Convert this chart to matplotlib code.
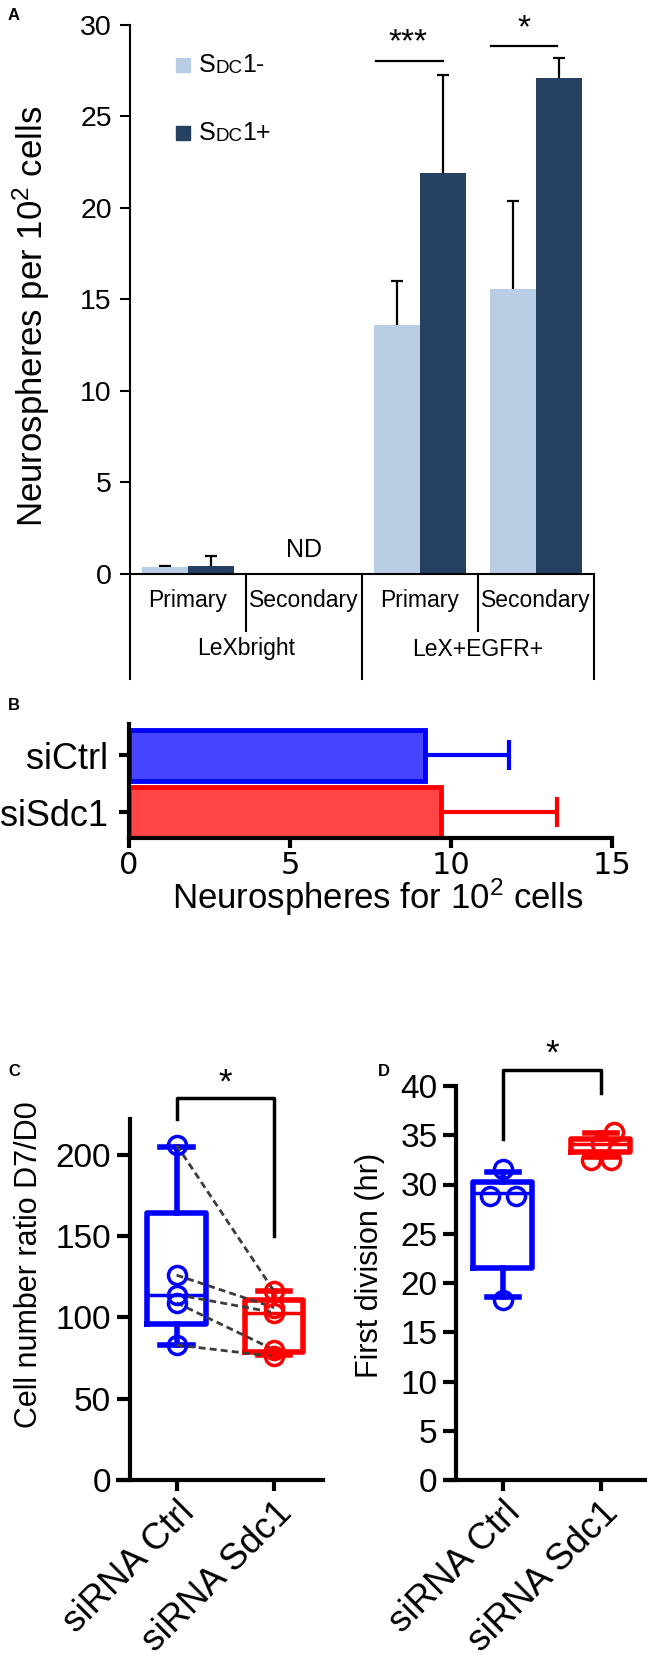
import numpy as np
import matplotlib.pyplot as plt
import matplotlib.transforms as mtransforms
from matplotlib import font_manager

plt.rcParams['font.family'] = ['Liberation Sans', 'DejaVu Sans']
plt.rcParams['mathtext.fontset'] = 'custom'
plt.rcParams['mathtext.rm'] = 'Liberation Sans'
plt.rcParams['mathtext.default'] = 'regular'

# ---- data ----
# panel A: neurospheres per 10^2 cells
a_stage = ['Primary', 'Secondary', 'Primary', 'Secondary']
a_group = ['LeXbright', 'LeX+EGFR+']
a_neg = [0.4, np.nan, 13.6, 15.6]
a_neg_err = [0.03, np.nan, 2.4, 4.8]
a_pos = [0.46, np.nan, 21.9, 27.1]
a_pos_err = [0.53, np.nan, 5.35, 1.1]

# panel B
b_names = ['siCtrl', 'siSdc1']
b_mean = [9.2, 9.7]
b_err = [2.6, 3.6]

# panel C, paired samples (same order) + box (min, q1, median, q3, max)
c_ctrl = [206, 126, 114, 109, 83]
c_sdc1 = [116, 106, 103, 80, 76]
c_ctrl_box = [83, 96, 114, 164, 205]
c_sdc1_box = [77, 79, 103, 111, 116]

# panel D
d_ctrl = [31.6, 28.8, 28.8, 18.3]
d_sdc1 = [35.3, 34.1, 32.5, 32.5]
d_ctrl_box = [18.6, 21.5, 29.1, 30.3, 31.3]
d_sdc1_box = [32.8, 33.3, 34.1, 34.6, 35.2]

cd_names = ['siRNA Ctrl', 'siRNA Sdc1']

# a narrow face for the B tick numbers, if one is installed
narrow = None
for f in font_manager.fontManager.ttflist:
    if 'Narrow' in f.name or f.stretch in ('condensed', 'semi-condensed'):
        narrow = f.name
        break

W, H = 647, 1663
fig = plt.figure(figsize=(W / 100, H / 100), dpi=100)


def axes_px(l, t, r, b):
    return fig.add_axes([l / W, 1 - b / H, (r - l) / W, (b - t) / H])


def ftext(x, y, s, **kw):
    fig.text(x / W, 1 - y / H, s, **kw)


# ================= A =================
axA = axes_px(130, 25, 594, 574)
light, dark = '#B9CDE5', '#254061'
x = np.arange(4)
ekw = dict(lw=1.6, capsize=4.5, capthick=1.6, zorder=1)
axA.bar(x - 0.2, a_neg, 0.4, color=light, yerr=a_neg_err, ecolor='black', error_kw=ekw, zorder=2)
axA.bar(x + 0.2, a_pos, 0.4, color=dark, yerr=a_pos_err, ecolor='black', error_kw=ekw, zorder=2)
axA.set_xlim(-0.5, 3.5)
axA.set_ylim(0, 30)
axA.set_yticks(range(0, 31, 5))
axA.set_xticks([])
axA.tick_params(axis='y', labelsize=20.5, length=7, width=1.5, pad=6)
for s in ['top', 'right']:
    axA.spines[s].set_visible(False)
for s in ['left', 'bottom']:
    axA.spines[s].set_linewidth(1.5)
    axA.spines[s].set_zorder(3)

blend = mtransforms.blended_transform_factory(axA.transData, fig.transFigure)
for xi in [-0.5, 1.5, 3.5]:
    axA.plot([xi, xi], [1 - 574 / H, 1 - 679 / H], transform=blend,
             clip_on=False, color='black', lw=1.5)
for xi in [0.5, 2.5]:
    axA.plot([xi, xi], [1 - 574 / H, 1 - 631 / H], transform=blend,
             clip_on=False, color='black', lw=1.5)
for xi, lab in zip(x, a_stage):
    axA.text(xi, 1 - 601 / H, lab, transform=blend, ha='center', va='center', fontsize=16.5)
for xi, lab in zip([0.5, 2.5], a_group):
    axA.text(xi, 1 - 649 / H, lab, transform=blend, ha='center', va='center', fontsize=16.5)

# legend with small caps
for y0, sign, col in [(27.8, '-', light), (24.1, '+', dark)]:
    axA.plot(-0.04, y0, 's', ms=10.5, color=col)
    t = axA.text(0.09, y0, 'S', fontsize=18, va='center')
    t2 = axA.annotate('DC', xy=(1, 0), xycoords=t, fontsize=13.5, va='bottom')
    axA.annotate('1' + sign, xy=(1, 0), xycoords=t2, fontsize=18, va='bottom')

axA.text(1, 1.3, 'ND', ha='center', va='center', fontsize=18)
axA.plot([1.62, 2.2], [28.05, 28.05], color='black', lw=1.6, clip_on=False)
axA.text(1.9, 29.05, '***', ha='center', va='center', fontsize=24)
axA.plot([2.61, 3.18], [28.85, 28.85], color='black', lw=1.6, clip_on=False)
axA.text(2.9, 29.8, '*', ha='center', va='center', fontsize=24)
ftext(31, 316, 'Neurospheres per 10$^2$ cells', rotation=90, ha='center', va='center', fontsize=25)

# ================= B =================
axB = axes_px(129, 724, 612, 838)
yb = [1, 0]
edge = ['#0000FF', '#FF0000']
axB.barh(yb, b_mean, height=0.9, color=['#4545FF', '#FF4545'], edgecolor=edge,
         linewidth=3.5, zorder=2)
for yi, m, e, c in zip(yb, b_mean, b_err, edge):
    axB.errorbar(m, yi, xerr=e, color=c, lw=3, capsize=11, capthick=3, zorder=1)
axB.set_xlim(0, 15)
axB.set_ylim(-0.45, 1.55)
axB.set_xticks([0, 5, 10, 15])
axB.set_yticks(yb)
axB.set_yticklabels(b_names, fontsize=26)
for lab in axB.get_xticklabels():
    if narrow:
        lab.set_fontfamily(narrow)
        lab.set_fontsize(22)
    else:
        lab.set_fontsize(19)
axB.tick_params(axis='x', length=7, width=3, pad=2)
axB.tick_params(axis='y', length=7, width=3, pad=8)
for s in ['top', 'right']:
    axB.spines[s].set_visible(False)
for s in ['left', 'bottom']:
    axB.spines[s].set_linewidth(3)
    axB.spines[s].set_zorder(3)
ftext(378, 897, 'Neurospheres for 10$^2$ cells', ha='center', va='center', fontsize=25)


# ================= C & D =================
def boxes(ax, pts, five, spread):
    for pos, vals, fn, col, dx in zip([0, 1], pts, five, ['#0000FF', '#FF0000'], spread):
        lw = 4
        st = dict(whislo=fn[0], q1=fn[1], med=fn[2], q3=fn[3], whishi=fn[4], fliers=[])
        ax.bxp([st], positions=[pos], widths=0.6, capwidths=0.33, showfliers=False,
               boxprops=dict(color=col, lw=lw),
               whiskerprops=dict(color=col, lw=lw),
               capprops=dict(color=col, lw=lw),
               medianprops=dict(color=col, lw=2.5))
        ax.plot(pos + np.array(dx), vals, 'o', mfc='none', mec=col, ms=13, mew=2.5, zorder=5)


def style(ax, ylim, yticks, xlim, xleft):
    ax.set_xlim(*xlim)
    ax.set_ylim(0, ylim)
    ax.spines['left'].set_position(('data', xleft))
    for s in ['top', 'right']:
        ax.spines[s].set_visible(False)
    for s in ['left', 'bottom']:
        ax.spines[s].set_linewidth(3)
    ax.set_yticks(yticks)
    ax.set_xticks([0, 1])
    ax.set_xticklabels(cd_names, rotation=45, ha='right', va='top', rotation_mode='anchor', fontsize=26.5)
    ax.tick_params(axis='y', labelsize=24, length=9.5, width=3, pad=4)
    ax.tick_params(axis='x', length=8, width=3, pad=3)


axC = axes_px(118, 1119, 323, 1480)
for a, b in zip(c_ctrl, c_sdc1):
    axC.plot([0, 1], [a, b], color='#3c3c3c', lw=2, dashes=(2.5, 1.5), zorder=4)
boxes(axC, [c_ctrl, c_sdc1], [c_ctrl_box, c_sdc1_box], [[0] * 5, [0] * 5])
style(axC, 222, range(0, 201, 50), (-0.6, 1.5), -0.48)
axC.plot([0, 0, 1, 1], [222, 235, 235, 150], color='black', lw=2.5, clip_on=False)
axC.text(0.5, 244, '*', ha='center', va='center', fontsize=25)
ftext(29, 1265, 'Cell number ratio D7/D0', rotation=90, ha='center', va='center', fontsize=22)

axD = axes_px(446, 1086, 645, 1480)
boxes(axD, [d_ctrl, d_sdc1], [d_ctrl_box, d_sdc1_box], [[0, -0.13, 0.13, 0], [0.13, 0, -0.1, 0.1]])
style(axD, 40, range(0, 41, 5), (-0.58, 1.45), -0.475)
axD.plot([0, 0, 1, 1], [34.6, 41.6, 41.6, 39.25], color='black', lw=2.5, clip_on=False)
axD.text(0.5, 43.2, '*', ha='center', va='center', fontsize=25)
ftext(370, 1265, 'First division (hr)', rotation=90, ha='center', va='center', fontsize=22)

# panel letters
for lx, ly, lab in [(8, 16, 'A'), (8, 705, 'B'), (8, 1071, 'C'), (378, 1071, 'D')]:
    ftext(lx, ly, lab, fontsize=12, fontweight='bold', va='center')

fig.savefig('out.png', dpi=100)
